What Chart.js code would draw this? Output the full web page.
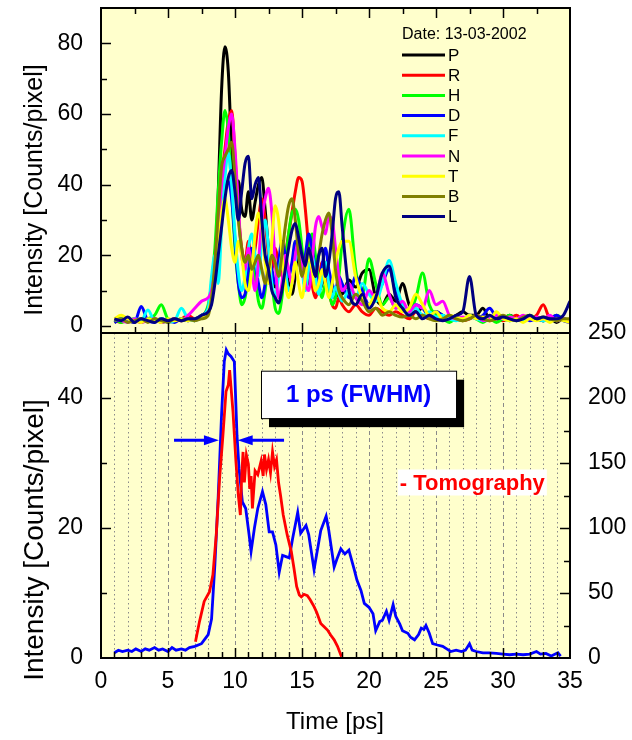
<!DOCTYPE html>
<html>
<head>
<meta charset="utf-8">
<title>Bunch length measurement</title>
<script src="https://cdn.jsdelivr.net/npm/chart.js@4.4.1/dist/chart.umd.min.js"></script>
<style>
  html, body { margin: 0; padding: 0; background: #ffffff; }
  #wrap { position: relative; width: 632px; height: 740px; }
  #wrap canvas { position: absolute; left: 0; top: 0; }
</style>
</head>
<body>
<div id="wrap">
  <canvas id="profileChart" width="632" height="740"></canvas>
  <canvas id="shotChart" width="632" height="740"></canvas>
</div>
<script>
const FONT = '"Liberation Sans", Arial, Helvetica, sans-serif';
const PLOT_BG = '#ffffcc';

// ---- single shots (upper panel) ----
const shotTime = [1, 1.5, 2, 2.5, 3, 3.5, 4, 4.5, 5, 5.5, 6, 6.5, 7, 7.5, 8,
  8.25, 8.5, 8.75, 9, 9.25, 9.5, 9.75, 10, 10.25, 10.5, 10.75, 11, 11.25, 11.5, 11.75, 12, 12.25, 12.5, 12.75, 13,
  13.25, 13.5, 13.75, 14, 14.25, 14.5, 14.75, 15, 15.25, 15.5, 15.75, 16, 16.25, 16.5, 16.75, 17, 17.25, 17.5, 17.75, 18,
  18.5, 19, 19.5, 20, 20.5, 21, 21.5, 22, 22.5, 23, 23.5, 24, 24.5, 25, 25.5, 26, 26.5, 27, 27.5, 28, 28.5, 29, 29.5,
  30, 30.5, 31, 31.5, 32, 32.5, 33, 33.5, 34, 34.5, 35];

const shotNames = ['P', 'R', 'H', 'D', 'F', 'N', 'T', 'B', 'L'];
const shotColors = ['#000000', '#ff0000', '#00ff00', '#0000ff', '#00ffff', '#ff00ff', '#ffff00', '#808000', '#000080'];

const shotP = [1, 2, 1.5, 1, 2, 1.5, 2, 1, 1.5, 2, 1.5, 2, 1.5, 2.5, 4,
  7, 16, 38, 67, 79, 72, 50, 40, 41, 33, 31, 38, 30, 35, 40, 42, 33, 22, 15, 11,
  16, 22, 18, 12, 9, 14, 20, 17, 11, 13, 19, 15, 10, 12, 17, 14, 9, 8, 10, 9,
  13, 11, 15, 16, 8, 6, 9, 7, 12, 6, 4, 5, 3, 4, 3, 2, 3, 4, 3, 3, 5, 2, 3, 2, 3, 2, 1.5, 2, 2, 1.5, 2, 1, 2, 1.5];
const shotR = [1.5, 1, 2, 1.5, 1, 2, 1.5, 2, 1, 1.5, 2, 3, 2, 3, 5,
  9, 18, 30, 42, 50, 58, 61, 48, 32, 22, 18, 24, 18, 22, 30, 36, 30, 20, 16, 22,
  18, 14, 20, 26, 32, 38, 42, 41, 33, 22, 12, 8, 12, 18, 14, 10, 6, 5, 8, 6,
  4, 6, 4, 3, 5, 4, 3, 4, 3, 2, 4, 3, 2, 3, 2, 3, 2, 1.5, 2, 3, 2, 1.5, 2, 1.5, 2, 3, 2, 2, 3, 6, 2, 1.5, 2, 1];
const shotH = [2, 1, 1.5, 2, 1, 2, 3, 6, 2, 1.5, 2, 1.5, 2, 2.5, 6,
  12, 22, 38, 52, 61, 55, 38, 22, 12, 6, 8, 14, 20, 14, 7, 5, 10, 18, 12, 5,
  3.5, 8, 18, 26, 32, 33, 30, 22, 14, 20, 26, 20, 12, 8, 12, 10, 6, 8, 14, 24,
  33, 16, 9, 19, 12, 6, 8, 5, 6, 4, 8, 15, 6, 3, 2, 1, 2, 1.5, 3, 2, 1, 2, 1, 2, 3, 1.5, 2, 3, 2, 1.5, 2, 3, 2, 1.5];
const shotD = [1, 2, 1.5, 1, 5.5, 1.5, 1, 2, 1.5, 1, 2, 1.5, 2, 3, 5,
  10, 18, 26, 32, 38, 41, 36, 24, 12, 8, 9, 16, 22, 18, 12, 8, 12, 20, 16, 12,
  18, 24, 20, 14, 18, 24, 20, 15, 20, 26, 22, 16, 12, 17, 22, 16, 12, 10, 14, 12,
  8, 14, 10, 6, 8, 12, 16, 10, 6, 4, 6, 5, 3, 4, 3, 2, 2.5, 2, 3, 2, 3, 5, 2.5, 2, 1.5, 2, 2.5, 1.5, 2, 1.5, 2, 3, 1.5, 1];
const shotF = [1.5, 2, 1, 2, 1.5, 4.5, 1.5, 2, 1, 1.5, 5, 2, 1.5, 3, 5,
  14, 20, 12, 28, 42, 49, 40, 26, 15, 10, 14, 22, 26, 20, 14, 24, 30, 22, 12, 8,
  14, 20, 16, 10, 12, 18, 22, 16, 10, 16, 20, 14, 9, 13, 18, 12, 8, 11, 9, 7,
  10, 8, 12, 9, 7, 12, 18.5, 12, 6, 4, 5, 3, 4, 2.5, 3, 2, 1.5, 2, 2.5, 2, 1.5, 2, 3, 2, 1.5, 2, 1.5, 2.5, 2, 1.5, 2, 1.5, 2, 1.5];
const shotN = [2, 1.5, 1, 2, 1, 1.5, 2, 1, 1.5, 2, 1.5, 3, 5, 7, 8,
  10, 16, 28, 40, 48, 56, 60, 50, 34, 20, 16, 22, 16, 10, 18, 30, 36, 39, 32, 18,
  8, 12, 20, 16, 12, 20, 24, 18, 12, 10, 18, 28, 31, 28, 26, 31, 30, 22, 14, 10,
  12, 8, 6, 10, 8, 15, 9, 5, 7, 4, 6, 5, 10, 6, 7, 3, 2, 2.5, 2, 3, 1.5, 2, 3, 2, 2.5, 2, 3, 2, 2.5, 2, 3, 1.5, 2, 1];
const shotT = [2, 3, 2, 1.5, 1, 2, 1.5, 1, 2, 1.5, 2, 1.5, 2, 2.5, 4,
  8, 14, 22, 32, 36, 30, 22, 18, 24, 20, 12, 10, 16, 26, 32, 28, 18, 12, 24, 34,
  30, 20, 12, 8, 12, 18, 12, 8, 14, 20, 16, 10, 12, 16, 12, 8, 12, 18, 22, 24,
  24, 14, 8, 6, 9, 5, 4, 6, 4, 5, 9, 6, 3, 4, 2, 3, 2.5, 2, 3, 2, 2.5, 1.5, 4, 2, 1.5, 2, 1, 2, 1.5, 2, 1, 2, 1.5, 1];
const shotB = [1.5, 2, 1, 1.5, 2, 1, 2, 1.5, 1, 2, 1.5, 2, 1.5, 2, 3,
  8, 18, 32, 45, 48, 50, 52, 42, 30, 22, 18, 20, 16, 18, 20, 16, 12, 16, 20, 18,
  14, 20, 28, 34, 36, 30, 20, 14, 18, 22, 18, 14, 20, 26, 30, 32, 26, 16, 10, 8,
  6, 9, 7, 4, 5, 3, 4, 3, 2.5, 3, 2, 3, 2, 1.5, 2, 3, 2, 1.5, 2, 3, 2, 1.5, 2, 3, 2, 1.5, 2.5, 3, 2, 2.5, 2, 1.5, 2, 2];
const shotL = [2, 1.5, 2.5, 1, 2, 1.5, 1, 2, 1.5, 2, 1.5, 2, 2, 3, 4,
  6, 12, 20, 28, 36, 42, 44, 38, 30, 38, 46, 48, 36, 40, 42, 30, 20, 16, 10, 8,
  6.5, 10, 16, 22, 27, 29, 25, 20, 17, 22, 18, 14, 20, 22, 14, 18, 26, 36, 38, 28,
  10, 6, 9, 5, 8, 15, 17, 8, 5, 3, 4, 2, 3, 2, 1.5, 2, 3, 4, 14, 3, 2, 3, 2, 2.5, 2, 1.5, 2, 3, 2, 2.5, 2, 2, 3, 7];
const shotValues = [shotP, shotR, shotH, shotD, shotF, shotN, shotT, shotB, shotL];

// ---- averaged streak profile (right axis) ----
const profileTime = [1.0, 1.3, 1.6, 2.0, 2.3, 2.6, 3.0, 3.3, 3.6, 4.0, 4.3, 4.6, 5.0, 5.3, 5.6, 6.0, 6.3, 6.6,
  7.0, 7.5, 8.0, 8.25, 8.5, 8.75, 9.0, 9.2, 9.35, 9.5,
  9.7, 9.95, 10.15, 10.3, 10.55, 10.8, 11.05, 11.2, 11.45, 11.7,
  12.05, 12.3, 12.55, 12.8, 13.05, 13.3, 13.55, 13.8, 14.05, 14.3,
  14.68, 14.9, 15.3, 15.5, 15.9, 16.1, 16.4, 16.8, 17.0, 17.4,
  17.6, 17.9, 18.2, 18.5, 18.9, 19.1, 19.4, 19.65, 20.0, 20.3,
  20.5, 20.8, 21.0, 21.3, 21.5, 21.8, 22.0, 22.3, 22.5, 22.9,
  23.1, 23.4, 23.7, 23.9, 24.1, 24.25, 24.5, 24.75, 25.1, 25.5,
  25.8, 26.1, 26.5, 26.9, 27.2, 27.5, 27.7, 28.0, 28.5, 29.0,
  29.5, 30.0, 30.5, 31.0, 31.5, 32.0, 32.5, 32.8, 33.2, 33.6,
  34.1, 34.3];
const profileCounts = [4, 6, 5, 6, 5, 7, 5, 7, 6, 8, 6, 7, 5, 8, 6, 7, 6, 8,
  9, 11, 18, 30, 72, 125, 188, 228, 237, 234,
  232, 228, 171, 146, 120, 115, 95, 82, 100, 115,
  128, 118, 97, 97, 87, 66, 79, 78, 77, 92,
  112, 96, 102, 95, 68, 80, 98, 109, 98, 70,
  76, 84, 80, 83, 68, 60, 52, 42, 39, 34,
  21, 28, 29, 36, 29, 41, 32, 26, 21, 19,
  16, 14, 18, 23, 22, 25, 19, 11, 10, 9,
  7, 5, 6, 5, 6, 11, 6, 5, 4, 4,
  3.5, 3, 2.5, 3, 2.5, 3, 5, 3, 3.5, 1.5,
  4, 1.5];

// ---- tomography reconstruction (left axis) ----
const tomoTime = [7.05, 7.35, 7.7, 8.1, 8.35, 8.6, 8.85, 9.1, 9.33, 9.5,
  9.6, 9.85, 10.07, 10.25, 10.4, 10.5, 10.6, 10.7, 10.85, 11.0,
  11.1, 11.2, 11.3, 11.5, 11.7, 11.95, 12.1, 12.2, 12.35, 12.5,
  12.65, 12.8, 12.95, 13.1, 13.25, 13.4, 13.6, 13.9, 14.2, 14.4,
  14.6, 14.8, 14.95, 15.15, 15.4, 15.6, 15.9, 16.1, 16.4, 16.65,
  16.9, 17.15, 17.4, 17.65, 17.95];
const tomoCounts = [2.5, 5.6, 8.7, 10.2, 12.8, 18.9, 27.6, 34.3, 41, 42,
  44.3, 37.9, 30.2, 25, 22, 28, 31.7, 27, 31.2, 29.8,
  26, 28, 23, 28.8, 28.2, 30.3, 28, 31.3, 29, 30.5,
  28.5, 31.7, 29.5, 30.5, 27, 25, 22, 18.9, 16.4, 13.8,
  11, 9.7, 9.4, 9.8, 9.6, 9, 7.9, 7, 5.3, 4.8,
  4.3, 3.5, 2.8, 1.8, 0.2];

// labelled ticks
const timeLabels = [0, 5, 10, 15, 20, 25, 30, 35];
const shotLabels = [0, 20, 40, 60, 80];
const tomoLabels = [0, 20, 40];
const profileLabels = [0, 50, 100, 150, 200, 250];

function range(a, b, step) {
  const out = [];
  for (let v = a; v <= b + 1e-9; v += step) out.push(Math.round(v * 100) / 100);
  return out;
}

// frame, inward tick marks, background and optional vertical grid of a panel
function panelPlugin(spec) {
  return {
    id: 'panel',
    beforeDraw(chart) {
      const { ctx, chartArea: a } = chart;
      ctx.save();
      ctx.fillStyle = PLOT_BG;
      ctx.fillRect(a.left, a.top, a.right - a.left, a.bottom - a.top);
      ctx.restore();
    },
    beforeDatasetsDraw(chart) {
      if (!spec.grid) return;
      const { ctx, chartArea: a } = chart;
      const xs = chart.scales.x;
      ctx.save();
      ctx.strokeStyle = '#8a8a8a';
      ctx.lineWidth = 1;
      spec.grid.forEach(t => {
        const px = Math.round(xs.getPixelForValue(t)) + 0.5;
        ctx.setLineDash(t % 5 === 0 ? [4, 3] : [1.5, 3]);
        ctx.beginPath();
        ctx.moveTo(px, a.top);
        ctx.lineTo(px, a.bottom);
        ctx.stroke();
      });
      ctx.restore();
    },
    afterDraw(chart) {
      const { ctx, chartArea: a } = chart;
      ctx.save();
      ctx.strokeStyle = '#000';
      ctx.lineWidth = 1.5;
      spec.marks.forEach(m => {
        const s = chart.scales[m.scale];
        m.values.forEach(v => {
          const len = (Math.abs(v % m.major) < 1e-6) ? 10 : 6;
          const p = Math.round(s.getPixelForValue(v)) + 0.5;
          ctx.beginPath();
          if (m.side === 'left') { ctx.moveTo(a.left, p); ctx.lineTo(a.left + len, p); }
          if (m.side === 'right') { ctx.moveTo(a.right, p); ctx.lineTo(a.right - len, p); }
          if (m.side === 'top') { ctx.moveTo(p, a.top); ctx.lineTo(p, a.top + len); }
          if (m.side === 'bottom') { ctx.moveTo(p, a.bottom); ctx.lineTo(p, a.bottom - len); }
          ctx.stroke();
        });
      });
      ctx.lineWidth = 2;
      ctx.strokeRect(a.left, a.top, a.right - a.left, a.bottom - a.top);
      ctx.restore();
    }
  };
}

function verticalTitle(ctx, text, x, y, size) {
  ctx.save();
  ctx.translate(x, y);
  ctx.rotate(-Math.PI / 2);
  ctx.font = size + 'px ' + FONT;
  ctx.fillStyle = '#000';
  ctx.textAlign = 'center';
  ctx.textBaseline = 'middle';
  ctx.fillText(text, 0, 0);
  ctx.restore();
}

// legend with the recording date, drawn inside the upper panel
const shotLegend = {
  id: 'shotLegend',
  afterDraw(chart) {
    const ctx = chart.ctx;
    ctx.save();
    ctx.fillStyle = '#000';
    ctx.textBaseline = 'middle';
    ctx.font = '16px ' + FONT;
    ctx.fillText('Date: 13-03-2002', 402, 35);
    ctx.font = '17px ' + FONT;
    chart.data.datasets.forEach((ds, i) => {
      const y = 55 + i * 20.2;
      ctx.strokeStyle = ds.borderColor;
      ctx.lineWidth = 3;
      ctx.beginPath();
      ctx.moveTo(402, y);
      ctx.lineTo(445, y);
      ctx.stroke();
      ctx.fillText(ds.label, 448, y + 1);
    });
    verticalTitle(ctx, 'Intensity [Counts/pixel]', 35, 190, 25);
    ctx.restore();
  }
};

function arrow(ctx, x1, x2, y) {
  const dir = Math.sign(x2 - x1);
  ctx.beginPath();
  ctx.moveTo(x1, y);
  ctx.lineTo(x2 - dir * 12, y);
  ctx.stroke();
  ctx.beginPath();
  ctx.moveTo(x2, y);
  ctx.lineTo(x2 - dir * 15, y - 5);
  ctx.lineTo(x2 - dir * 15, y + 5);
  ctx.closePath();
  ctx.fill();
}

// FWHM marker, label box and legend text of the lower panel
const profileNotes = {
  id: 'profileNotes',
  afterDraw(chart) {
    const { ctx } = chart;
    const xs = chart.scales.x, ys = chart.scales.y;
    ctx.save();

    const bx1 = xs.getPixelForValue(11.94), bx2 = xs.getPixelForValue(26.5);
    const by1 = ys.getPixelForValue(44.2), by2 = ys.getPixelForValue(36.9);
    ctx.fillStyle = '#000';
    ctx.fillRect(bx1 + 8, by1 + 9, bx2 - bx1, by2 - by1);
    ctx.fillStyle = '#fff';
    ctx.fillRect(bx1, by1, bx2 - bx1, by2 - by1);
    ctx.strokeStyle = '#000';
    ctx.lineWidth = 1;
    ctx.strokeRect(bx1 + 0.5, by1 + 0.5, bx2 - bx1, by2 - by1);
    ctx.fillStyle = '#0000ff';
    ctx.font = 'bold 24px ' + FONT;
    ctx.textAlign = 'center';
    ctx.textBaseline = 'middle';
    ctx.fillText('1 ps (FWHM)', (bx1 + bx2) / 2, (by1 + by2) / 2 + 1);

    const ay = ys.getPixelForValue(33.5);
    ctx.strokeStyle = '#0000ff';
    ctx.fillStyle = '#0000ff';
    ctx.lineWidth = 3;
    arrow(ctx, xs.getPixelForValue(5.45), xs.getPixelForValue(8.8), ay);
    arrow(ctx, xs.getPixelForValue(13.66), xs.getPixelForValue(10.2), ay);

    ctx.font = 'bold 22px ' + FONT;
    ctx.textAlign = 'left';
    const label = '- Tomography';
    const tx = xs.getPixelForValue(22.3), ty = ys.getPixelForValue(27);
    const w = ctx.measureText(label).width;
    ctx.fillStyle = '#fff';
    ctx.fillRect(tx - 2, ty - 13, w + 4, 26);
    ctx.fillStyle = '#ff0000';
    ctx.fillText(label, tx, ty + 1);

    verticalTitle(ctx, 'Intensity [Counts/pixel]', 35, 540, 28);
    ctx.font = '24px ' + FONT;
    ctx.fillStyle = '#000';
    ctx.textAlign = 'center';
    ctx.fillText('Time [ps]', 335, 722);
    ctx.restore();
  }
};

const tickFont = { family: FONT, size: 23 };

// tick labels only; marks and frame come from panelPlugin
function labelAxis(labels, width, extra) {
  return Object.assign({
    grid: { display: false, drawTicks: false },
    border: { display: false },
    ticks: { color: '#000', font: tickFont, padding: 18, autoSkip: false, maxRotation: 0 },
    afterBuildTicks: s => { s.ticks = labels.map(v => ({ value: v })); },
    afterFit: s => {
      if (s.isHorizontal()) s.height = width; else s.width = width;
      s.paddingTop = 0; s.paddingBottom = 0; s.paddingLeft = 0; s.paddingRight = 0;
    }
  }, extra);
}

// upper panel
new Chart(document.getElementById('shotChart'), {
  type: 'line',
  data: {
    datasets: shotNames.map((name, i) => ({
      label: name,
      data: shotTime.map((t, j) => ({ x: t, y: shotValues[i][j] })),
      borderColor: shotColors[i],
      borderWidth: 3,
      pointRadius: 0,
      cubicInterpolationMode: 'monotone',
      order: shotNames.length - i
    }))
  },
  options: {
    responsive: false,
    animation: false,
    layout: { padding: { left: 0, top: 8, right: 62, bottom: 407 } },
    plugins: { legend: { display: false }, tooltip: { enabled: false } },
    scales: {
      x: { type: 'linear', min: 0, max: 35, display: false },
      y: labelAxis(shotLabels, 101, { min: -2, max: 90 })
    }
  },
  plugins: [panelPlugin({
    marks: [
      { scale: 'y', side: 'left', values: range(0, 80, 10), major: 20 },
      { scale: 'x', side: 'top', values: range(2.5, 32.5, 2.5), major: 5 },
      { scale: 'x', side: 'bottom', values: range(2.5, 32.5, 2.5), major: 5 }
    ]
  }), shotLegend]
});

// lower panel
new Chart(document.getElementById('profileChart'), {
  type: 'line',
  data: {
    datasets: [{
      label: 'Tomography',
      data: tomoTime.map((t, j) => ({ x: t, y: tomoCounts[j] })),
      borderColor: '#ff0000',
      borderWidth: 2.8,
      pointRadius: 0,
      yAxisID: 'y',
      order: 0
    }, {
      label: 'Streak camera',
      data: profileTime.map((t, j) => ({ x: t, y: profileCounts[j] })),
      borderColor: '#0000ff',
      borderWidth: 2.8,
      pointRadius: 0,
      yAxisID: 'y2',
      order: 1
    }]
  },
  options: {
    responsive: false,
    animation: false,
    layout: { padding: { left: 0, top: 333, right: 0, bottom: 0 } },
    plugins: { legend: { display: false }, tooltip: { enabled: false } },
    scales: {
      x: labelAxis(timeLabels, 82, {
        type: 'linear', min: 0, max: 35,
        ticks: { color: '#000', font: tickFont, padding: 10, autoSkip: false, maxRotation: 0 }
      }),
      y: labelAxis(tomoLabels, 101, { position: 'left', min: 0, max: 50 }),
      y2: labelAxis(profileLabels, 62, { position: 'right', min: 0, max: 250 })
    }
  },
  plugins: [panelPlugin({
    grid: range(1, 34, 1),
    marks: [
      { scale: 'y', side: 'left', values: range(10, 40, 10), major: 20 },
      { scale: 'y2', side: 'right', values: range(25, 225, 25), major: 50 },
      { scale: 'x', side: 'bottom', values: range(1, 34, 1), major: 5 }
    ]
  }), profileNotes]
});
</script>
</body>
</html>
